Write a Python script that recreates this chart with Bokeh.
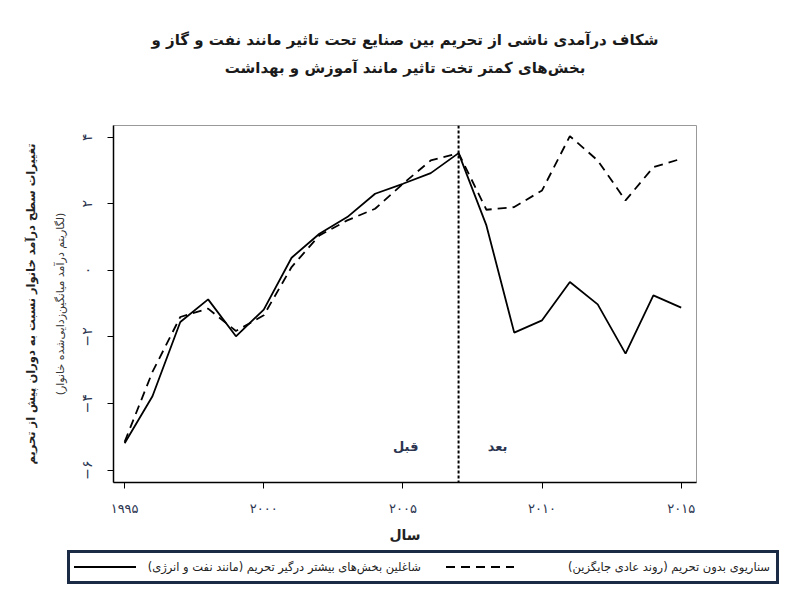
from bokeh.plotting import figure
from bokeh.layouts import column
from bokeh.models import Span, Label, LinearAxis, FixedTicker, Title, Div
from bokeh.embed import file_html
from bokeh.resources import INLINE

RLM = "\u200f"


def rtl(s):
    # keep parentheses on the right side when the page is LTR
    return RLM + s + RLM


# data
years = list(range(1995, 2016))
treated = [-5.19, -3.78, -1.55, -0.87, -1.98, -1.18, 0.38, 1.10, 1.60, 2.30, 2.60,
           2.92, 3.52, 1.35, -1.87, -1.50, -0.35, -1.02, -2.50, -0.75, -1.12]
counterfactual = [-5.15, -3.05, -1.40, -1.15, -1.82, -1.35, 0.10, 1.05, 1.50, 1.85, 2.60,
                  3.30, 3.52, 1.82, 1.90, 2.40, 4.03, 3.30, 2.10, 3.10, 3.35]
treat_year = 2007

x_ticks = [1995, 2000, 2005, 2010, 2015]
x_tick_labels = ["۱۹۹۵", "۲۰۰۰", "۲۰۰۵", "۲۰۱۰", "۲۰۱۵"]
y_ticks = [-6, -4, -2, 0, 2, 4]
y_tick_labels = ["−۶", "−۴", "−۲", "۰", "۲", "۴"]

title_1 = "شکاف درآمدی ناشی از تحریم بین صنایع تحت تاثیر مانند نفت و گاز و"
title_2 = "بخش‌های کمتر تخت تاثیر مانند آموزش و بهداشت"
y_label = "تغییرات سطح درآمد خانوار نسبت به دوران پیش از تحریم"
y_sublabel = "(لگاریتم درآمد میانگین‌زدایی‌شده خانوار)"
x_label = "سال"
label_treated = "شاغلین بخش‌های بیشتر درگیر تحریم (مانند نفت و انرژی)"
label_counter = "سناریوی بدون تحریم (روند عادی جایگزین)"
before_text = "قبل"
after_text = "بعد"

FONT = "DejaVu Sans"
NAVY = "#2b3550"
DASH = "9 6"

p = figure(frame_width=583, frame_height=357,
           x_range=(1994.6, 2015.55), y_range=(-6.37, 4.35),
           min_border_left=113, min_border_right=104,
           min_border_top=125, min_border_bottom=63,
           output_backend="svg", toolbar_location=None, tools="")

p.grid.visible = False
p.outline_line_color = "#999999"
p.background_fill_color = "white"

# titles, stacked upward from the frame (an empty one keeps the gap)
spacer = Title(text=" ", text_font_size="10px", standoff=36)
t2 = Title(text=rtl(title_2), align="center", text_font=FONT, text_font_size="15px",
           text_font_style="bold", text_color="#1a1a1a", standoff=0)
t1 = Title(text=rtl(title_1), align="center", text_font=FONT, text_font_size="15px",
           text_font_style="bold", text_color="#1a1a1a", standoff=16)
p.add_layout(spacer, "above")
p.add_layout(t2, "above")
p.add_layout(t1, "above")

# x axis
p.xaxis.ticker = FixedTicker(ticks=x_ticks)
p.xaxis.major_label_overrides = dict(zip(x_ticks, x_tick_labels))
p.xaxis.minor_tick_line_color = None
p.xaxis.major_tick_out = 6
p.xaxis.major_tick_in = 0
p.xaxis.major_label_standoff = 12
p.xaxis.major_label_text_font = FONT
p.xaxis.major_label_text_font_size = "13px"
p.xaxis.major_label_text_color = NAVY
p.xaxis.axis_line_width = 1.5
p.xaxis.axis_label = rtl(x_label)
p.xaxis.axis_label_text_font = FONT
p.xaxis.axis_label_text_font_size = "14px"
p.xaxis.axis_label_text_font_style = "bold"
p.xaxis.axis_label_text_color = "#222222"
p.xaxis.axis_label_standoff = 8

# y axis: ticks and the small second line of the label
p.yaxis.ticker = FixedTicker(ticks=y_ticks)
p.yaxis.major_label_overrides = dict(zip(y_ticks, y_tick_labels))
p.yaxis.major_label_orientation = "vertical"
p.yaxis.minor_tick_line_color = None
p.yaxis.major_tick_out = 6
p.yaxis.major_tick_in = 0
p.yaxis.major_label_standoff = 12
p.yaxis.major_label_text_font = FONT
p.yaxis.major_label_text_font_size = "14px"
p.yaxis.major_label_text_color = NAVY
p.yaxis.axis_line_width = 1.5
p.yaxis.axis_label = rtl(y_sublabel)
p.yaxis.axis_label_text_font = FONT
p.yaxis.axis_label_text_font_size = "11px"
p.yaxis.axis_label_text_font_style = "normal"
p.yaxis.axis_label_text_color = "#333333"
p.yaxis.axis_label_standoff = 10

# outer axis carrying only the main y label
outer = LinearAxis(ticker=FixedTicker(ticks=[]), axis_line_color=None,
                   major_tick_out=0, major_tick_in=0, minor_tick_line_color=None,
                   major_label_standoff=0, axis_label=rtl(y_label),
                   axis_label_text_font=FONT, axis_label_text_font_size="11.5px",
                   axis_label_text_font_style="bold", axis_label_text_color="#222222",
                   axis_label_standoff=13)
p.add_layout(outer, "left")

p.line(years, treated, line_color="black", line_width=1.8)
p.line(years, counterfactual, line_color="black", line_width=1.8, line_dash=DASH)

p.add_layout(Span(location=treat_year, dimension="height", line_color="black",
                  line_width=2, line_dash="3 2"))

for txt, xpos in [(before_text, treat_year - 1.9), (after_text, treat_year + 1.4)]:
    p.add_layout(Label(x=xpos, y=-5.3, text=txt, text_align="center",
                       text_baseline="middle", text_font=FONT, text_font_size="13px",
                       text_font_style="bold", text_color=NAVY))


# legend strip underneath, wider than the plot frame
def sample(left, width, dash):
    dash_attr = f' stroke-dasharray="{dash.replace(" ", ",")}"' if dash else ""
    return (f'<svg style="position:absolute;left:{left}px;top:0" width="{width}" height="28">'
            f'<line x1="0" y1="14" x2="{width}" y2="14" stroke="black" '
            f'stroke-width="1.8"{dash_attr}/></svg>')


def legend_text(text, right):
    return (f'<span dir="rtl" style="position:absolute;right:{right}px;top:0;'
            f'line-height:28px;white-space:nowrap;">{text}</span>')


legend_html = (
    '<div style="position:relative;width:800px;height:50px;">'
    '<div style="position:absolute;left:62px;top:0px;width:712px;height:34px;'
    'box-sizing:border-box;border:3px solid #1c2b45;background:#fff;'
    f"font-family:'{FONT}';font-size:11.5px;color:#222;\">"
    + sample(4, 62, None)
    + legend_text(label_treated, 355)
    + sample(376, 68, DASH)
    + legend_text(label_counter, 6)
    + '</div></div>'
)
legend_div = Div(text=legend_html, width=800, height=50)

layout = column(p, legend_div)
open("out.html", "w").write(file_html(layout, INLINE))
